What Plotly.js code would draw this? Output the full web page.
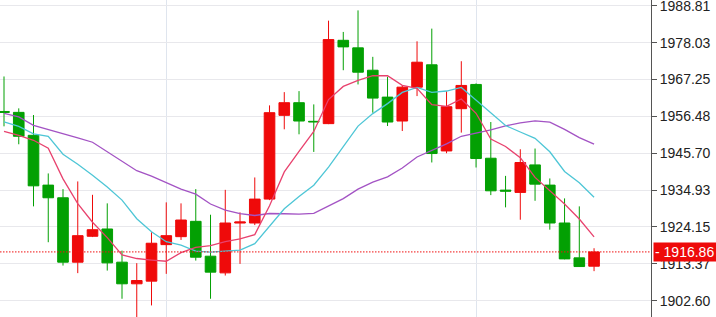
<!DOCTYPE html>
<html>
<head>
<meta charset="utf-8">
<script src="https://cdn.plot.ly/plotly-3.0.1.min.js"></script>
<style>
html,body{margin:0;padding:0;background:#fff;}
#chart{width:716px;height:317px;}
</style>
</head>
<body>
<div id="chart"></div>
<script>
// Candle index (time order)
var idx = [0,1,2,3,4,5,6,7,8,9,10,11,12,13,14,15,16,17,18,19,20,21,22,23,24,25,26,27,28,29,30,31,32,33,34,35,36,37,38,39,40];
var openV = [1957.90,1957.64,1950.94,1936.38,1932.68,1913.86,1921.43,1923.56,1913.86,1907.54,
             1908.32,1918.99,1921.32,1925.80,1915.61,1910.74,1925.30,1925.31,1932.30,1956.77,
             1960.47,1955.02,1954.35,1978.70,1976.49,1969.96,1962.10,1955.11,1965.01,1971.54,
             1946.37,1958.72,1965.80,1944.24,1934.92,1934.25,1942.29,1936.38,1925.31,1915.12,
             1912.69];
var highV = [1968.13,1958.81,1956.86,1939.79,1935.21,1937.46,1933.55,1931.05,1917.24,1913.57,
             1922.60,1931.34,1931.05,1935.21,1927.73,1935.00,1928.42,1938.62,1959.68,1963.56,
             1963.85,1959.97,1984.44,1981.15,1987.44,1973.87,1968.04,1965.50,1978.41,1982.11,
             1963.85,1972.59,1966.10,1954.82,1939.08,1946.86,1947.07,1938.33,1932.50,1930.17,
             1917.94];
var lowV  = [1953.56,1948.32,1930.17,1919.69,1912.87,1910.66,1921.20,1911.41,1903.17,1897.50,
             1901.22,1910.45,1920.36,1914.33,1903.17,1909.96,1913.37,1924.70,1932.00,1952.69,
             1951.23,1946.08,1954.20,1969.96,1965.80,1957.55,1953.65,1952.19,1962.40,1943.00,
             1945.70,1951.73,1941.53,1933.46,1929.88,1926.27,1931.80,1923.36,1914.70,1912.50,
             1911.24];
var closeV = [1957.64,1950.65,1936.17,1932.68,1913.86,1921.61,1923.35,1913.66,1907.54,1908.50,
              1919.40,1921.61,1926.18,1915.32,1910.95,1925.31,1925.60,1932.30,1957.55,1960.47,
              1955.11,1954.88,1978.91,1976.78,1969.38,1961.81,1954.82,1965.01,1972.30,1945.61,
              1959.30,1965.51,1944.15,1934.72,1934.63,1942.99,1936.67,1925.31,1914.82,1912.58,
              1916.86];
// Moving averages
var ma5  = [1952.11,1950.94,1949.49,1947.16,1938.20,1930.99,1925.53,1921.03,1916.00,1914.93,
            1914.49,1914.14,1916.65,1918.20,1918.69,1919.87,1920.67,1921.90,1930.34,1940.25,
            1946.21,1952.06,1961.38,1965.23,1967.01,1968.35,1968.34,1965.56,1964.66,1959.91,
            1959.41,1961.55,1957.37,1949.86,1947.66,1944.40,1938.63,1934.86,1930.88,1926.47,
            1921.25];
var ma10 = [1954.88,1953.56,1951.38,1950.65,1945.41,1942.50,1939.29,1935.80,1932.01,1926.57,
            1922.74,1919.84,1918.84,1917.10,1916.81,1917.18,1917.41,1919.27,1924.27,1929.47,
            1933.04,1936.37,1941.64,1947.79,1953.63,1957.28,1960.20,1963.47,1964.95,1963.46,
            1963.88,1964.94,1961.23,1957.26,1953.79,1951.90,1950.04,1946.12,1940.37,1937.07,
            1932.82];
var ma20 = [1957.35,1956.31,1953.86,1952.69,1951.38,1950.22,1948.91,1946.08,1943.37,1940.60,
            1939.00,1937.11,1935.21,1933.76,1930.85,1929.10,1928.08,1927.50,1928.08,1928.02,
            1927.89,1928.10,1930.24,1932.44,1935.22,1937.23,1938.80,1941.37,1944.61,1946.47,
            1948.46,1950.66,1951.55,1952.52,1953.71,1954.59,1955.15,1954.80,1952.66,1950.26,
            1948.35];
var yTicks = [1902.60,1913.37,1924.15,1934.93,1945.70,1956.48,1967.25,1978.03,1988.81];
var yTickText = ['1902.60','1913.37','1924.15','1934.93','1945.70','1956.48','1967.25','1978.03','1988.81'];
var gridX = [11, 32];
var lastPrice = 1916.86;
var lastPriceText = '1916.86';

var RED = '#ef0a0a', GREEN = '#03a003';

var traces = [
  {
    type: 'candlestick', x: idx, open: openV, high: highV, low: lowV, close: closeV,
    increasing: {line: {color: RED, width: 1}, fillcolor: RED},
    decreasing: {line: {color: GREEN, width: 1}, fillcolor: GREEN},
    whiskerwidth: 0, hoverinfo: 'skip', showlegend: false
  },
  {type: 'scatter', mode: 'lines', x: idx, y: ma20, line: {color: '#a353c4', width: 1.3}, hoverinfo: 'skip', showlegend: false},
  {type: 'scatter', mode: 'lines', x: idx, y: ma10, line: {color: '#4ec6d6', width: 1.3}, hoverinfo: 'skip', showlegend: false},
  {type: 'scatter', mode: 'lines', x: idx, y: ma5,  line: {color: '#e8426e', width: 1.3}, hoverinfo: 'skip', showlegend: false}
];

var layout = {
  width: 716, height: 317,
  margin: {l: 0, r: 65, t: 0, b: 0, pad: 0},
  paper_bgcolor: '#fff', plot_bgcolor: '#fff',
  showlegend: false,
  boxgap: 0.28, boxgroupgap: 0,
  xaxis: {
    type: 'linear', range: [-0.271, 43.86],
    tickmode: 'array', tickvals: gridX, showticklabels: false, ticks: '',
    showgrid: true, gridcolor: '#dfe5ee', gridwidth: 1,
    zeroline: false, showline: false, fixedrange: true,
    rangeslider: {visible: false}
  },
  yaxis: {
    side: 'right', range: [1897.84, 1990.48],
    tickmode: 'array', tickvals: yTicks, ticktext: yTickText,
    ticks: 'outside', ticklen: 5, tickcolor: '#555', tickwidth: 1,
    ticklabeloverflow: 'allow',
    showline: true, linecolor: '#555', linewidth: 1,
    showgrid: true, gridcolor: '#e8e8ec', gridwidth: 1,
    zeroline: false, fixedrange: true,
    tickfont: {family: 'Liberation Sans, Arial, sans-serif', size: 14, color: '#222'}
  },
  shapes: [{
    type: 'line', xref: 'paper', x0: 0, x1: 1, yref: 'y', y0: lastPrice, y1: lastPrice,
    line: {color: '#f01010', width: 1, dash: '1.5px,1.5px'}
  }],
  annotations: [{
    xref: 'paper', x: 1, xanchor: 'left', xshift: 2,
    yref: 'y', y: lastPrice, yanchor: 'middle',
    text: '<span style="color:#fff">-</span> ' + lastPriceText, showarrow: false,
    bgcolor: '#ee0a0a', borderpad: 1, width: 61, align: 'left',
    font: {family: 'Liberation Sans, Arial, sans-serif', size: 14, color: '#fff'}
  }]
};

Plotly.newPlot('chart', traces, layout, {displayModeBar: false, staticPlot: true});
</script>
</body>
</html>
